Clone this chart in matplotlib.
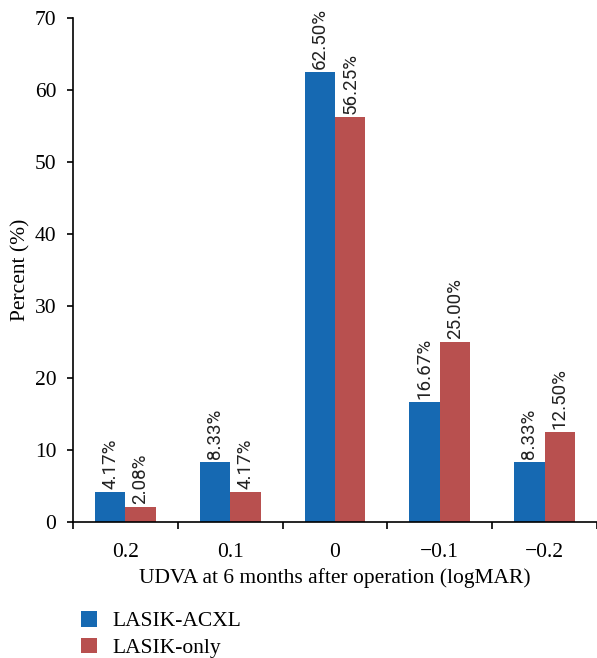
import matplotlib
matplotlib.use("Agg")
import matplotlib.pyplot as plt
import numpy as np
from matplotlib.ticker import FixedLocator

categories = ["0.2", "0.1", "0", "\u22120.1", "\u22120.2"]
acxl = [4.17, 8.33, 62.50, 16.67, 8.33]
only = [2.08, 4.17, 56.25, 25.00, 12.50]
series_names = ["LASIK-ACXL", "LASIK-only"]

blue = "#1669B2"
red = "#B8504F"
serif = ["Liberation Serif", "DejaVu Serif"]
sans = ["Roboto", "DejaVu Sans"]

plt.rcParams["font.family"] = serif
fs = 15.5

fig = plt.figure(figsize=(5.97, 6.58), dpi=100)
ax = fig.add_axes([73/597, (658-522)/658, 1 - 73/597, 504/658])

x = np.arange(len(categories))
w = 0.29
b1 = ax.bar(x - w/2, acxl, w, color=blue, label=series_names[0])
b2 = ax.bar(x + w/2, only, w, color=red, label=series_names[1])

for bars, vals in ((b1, acxl), (b2, only)):
    for rect, v in zip(bars, vals):
        ax.text(rect.get_x() + rect.get_width()/2, v + 0.45, f"{v:.2f}%",
                rotation=90, ha="center", va="bottom", fontsize=13.5,
                family=sans, color="#222222")

ax.set_xlim(-0.5, len(categories) - 0.5)
ax.set_ylim(0, 70)
ax.set_yticks(range(0, 71, 10))
ax.set_xticks(x)
ax.set_xticklabels(categories)
ax.xaxis.set_minor_locator(FixedLocator(np.arange(-0.5, len(categories), 1.0)))
ax.tick_params(axis="x", which="major", length=0, pad=15, labelsize=fs)
ax.tick_params(axis="x", which="minor", length=5, width=1.2, direction="out")
ax.tick_params(axis="y", length=4, width=1.2, direction="out", pad=8, labelsize=fs)

for s in ("top", "right"):
    ax.spines[s].set_visible(False)
ax.spines["left"].set_linewidth(1.2)
ax.spines["bottom"].set_linewidth(1.2)

ax.set_xlabel("UDVA at 6 months after operation (logMAR)", fontsize=fs, labelpad=4.5)
ax.set_ylabel("Percent (%)", fontsize=fs, labelpad=3)

fig.legend(handles=[b1, b2], labels=series_names, loc="upper left",
           bbox_to_anchor=(70/597, 1 - 600/658), frameon=False,
           fontsize=fs, handlelength=0.75, handleheight=0.75,
           handletextpad=0.7, labelspacing=0.3, borderpad=0.0)

fig.savefig("out.png", dpi=100)
